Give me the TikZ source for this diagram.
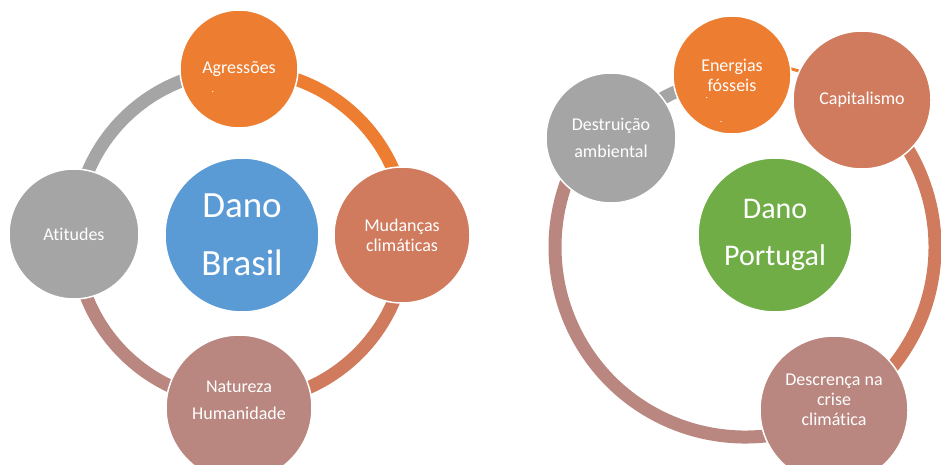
\documentclass[tikz,border=0pt]{standalone}
\usepackage{fontspec}
\setmainfont{Carlito}[Ligatures={NoCommon}]
\definecolor{corange}{HTML}{ED7D31}
\definecolor{cgray}{HTML}{A5A5A5}
\definecolor{cblue}{HTML}{5B9BD5}
\definecolor{cgreen}{HTML}{70AD47}
\definecolor{cterra}{HTML}{D07A5E}
\definecolor{crosy}{HTML}{B9877F}
\tikzset{
  bub/.style={circle, draw=white, line width=1.5pt, inner sep=0pt, text=white, align=center, font=\fontsize{18}{21}\selectfont},
  band/.style={line width=13pt},
  dotmark/.style={text=white, inner sep=0pt, font=\fontsize{10}{10}\selectfont}
}
\begin{document}
\begin{tikzpicture}[x=1pt,y=1pt]
\useasboundingbox (0,0) rectangle (941,464);
% ---------- Left: Dano Brasil ----------
\coordinate (lc) at (241,228);
\draw[band,cgray]  (lc) ++(90:166) arc[start angle=90, end angle=180, radius=166pt];
\draw[band,corange] (lc) ++(0:166) arc[start angle=0, end angle=90, radius=166pt];
\draw[band,cterra] (lc) ++(-90:166) arc[start angle=-90, end angle=0, radius=166pt];
\draw[band,crosy]  (lc) ++(180:166) arc[start angle=180, end angle=270, radius=166pt];
\node[bub, fill=cblue, minimum size=154pt, font=\fontsize{37}{58}\selectfont] (brasil) at (242,229) {Dano\\Brasil};
\node[bub, fill=corange, minimum size=118pt] (agr) at (239,395) {Agressões};
\node[dotmark] (agrdot) at (213,372) {.};
\node[bub, fill=cterra, minimum size=136pt, font=\fontsize{18}{20}\selectfont] (mud) at (402,229) {Mudanças\\climáticas};
\node[bub, fill=crosy, minimum size=146pt] (nat) at (239,56) {};
\node[text=white, align=center, font=\fontsize{18}{27}\selectfont] (natt) at (239,64) {Natureza\\Humanidade};
\node[bub, fill=cgray, minimum size=130pt] (ati) at (74,230) {Atitudes};
% ---------- Right: Dano Portugal ----------
\coordinate (rc) at (745,217);
\draw[band,cterra] (rc) ++(51:190) arc[start angle=51, end angle=-61, radius=190pt];
\draw[band,crosy]  (rc) ++(-61:190) arc[start angle=-61, end angle=-219, radius=190pt];
\draw[band,cgray]  (rc) ++(141:170) arc[start angle=141, end angle=95, radius=170pt];
\draw[line width=3pt,corange] (rc) ++(78:184) arc[start angle=78, end angle=68, radius=184pt];
\node[bub, fill=cgreen, minimum size=154pt, font=\fontsize{30}{47}\selectfont] (port) at (775,229) {Dano\\Portugal};
\node[bub, fill=corange, minimum size=118pt, font=\fontsize{18}{20}\selectfont] (ene) at (732,389) {Energias\\fósseis};
\node[dotmark] (enedot1) at (707,366) {.};
\node[dotmark] (enedot2) at (721,342) {.};
\node[bub, fill=cterra, minimum size=138pt] (cap) at (862,364) {Capitalismo};
\node[bub, fill=cgray, minimum size=130pt, font=\fontsize{18}{27}\selectfont] (des) at (611,326) {Destruição\\ambiental};
\node[bub, fill=crosy, minimum size=148pt] (desc) at (834,54) {};
\node[text=white, align=center, font=\fontsize{18}{20}\selectfont] (desct) at (834,64) {Descrença na\\crise\\climática};
\end{tikzpicture}
\end{document}
